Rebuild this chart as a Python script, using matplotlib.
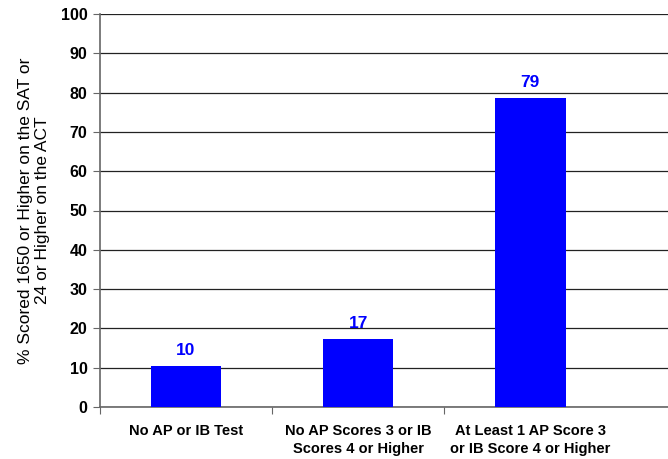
import numpy as np
import matplotlib.pyplot as plt

plt.rcParams['font.family'] = ['Liberation Sans', 'DejaVu Sans']

categories = ['No AP or IB Test',
              'No AP Scores 3 or IB\nScores 4 or Higher',
              'At Least 1 AP Score 3\nor IB Score 4 or Higher']
values = [10.4, 17.4, 78.7]
labels = ['10', '17', '79']

fig = plt.figure(figsize=(6.68, 4.59), dpi=100)
ax = fig.add_axes([100 / 668, (459 - 407) / 459, 568 / 668, 393 / 459])

x = np.arange(len(categories))
ax.bar(x, values, width=0.41, color='#0000ff', zorder=3)
for xi, v, lab in zip(x, values, labels):
    ax.text(xi, v + 2, lab, ha='center', va='bottom', color='#0000ff',
            fontsize=12.5, fontweight='bold')

ax.set_ylim(0, 100)
ax.set_xlim(-0.5, 2.8)
ax.set_yticks(range(0, 101, 10))
ax.yaxis.grid(True, color='#222222', linewidth=0.9, zorder=0)
for lab in ax.get_yticklabels():
    lab.set_fontweight('bold')
ax.tick_params(axis='y', labelsize=11.5, length=5, color='#666666', pad=4)

ax.set_xticks([-0.5, 0.5, 1.5])
ax.set_xticklabels([])
ax.set_xticks(x, minor=True)
ax.set_xticklabels(categories, minor=True, fontsize=10.5, fontweight='bold',
                   linespacing=1.4)
ax.tick_params(axis='x', which='major', length=5, color='#666666')
ax.tick_params(axis='x', which='minor', length=0, pad=12)

for s in ['top', 'right']:
    ax.spines[s].set_visible(False)
for s in ['left', 'bottom']:
    ax.spines[s].set_color('#666666')
    ax.spines[s].set_linewidth(1.2)

ax.set_ylabel('% Scored 1650 or Higher on the SAT or\n24 or Higher on the ACT',
              fontsize=12.5, labelpad=8, linespacing=1.15)

fig.savefig('out.png', dpi=100)
